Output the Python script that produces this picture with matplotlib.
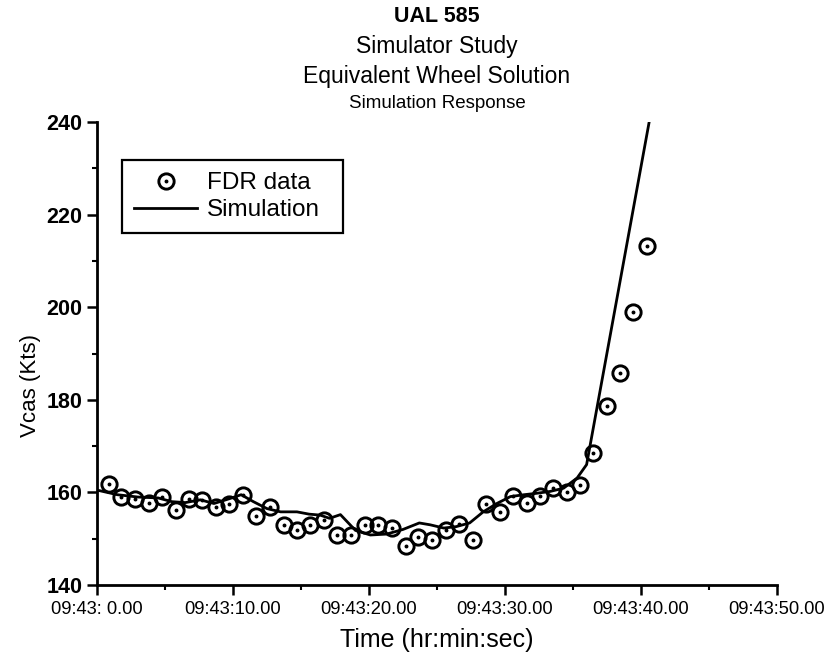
import matplotlib
matplotlib.use("Agg")
import matplotlib.pyplot as plt
from matplotlib.ticker import MultipleLocator, FixedLocator, FixedFormatter
from matplotlib.lines import Line2D
from matplotlib.legend_handler import HandlerTuple

plt.rcParams["font.family"] = ["Liberation Sans", "DejaVu Sans"]

# FDR data (seconds after 09:43:00, Vcas in kts)
fdr_time = [0.88, 1.80, 2.79, 3.82, 4.80, 5.78, 6.76, 7.74, 8.73, 9.71,
            10.74, 11.72, 12.75, 13.73, 14.71, 15.69, 16.72, 17.65, 18.65, 19.70,
            20.68, 21.67, 22.70, 23.63, 24.65, 25.66, 26.64, 27.63, 28.60, 29.63,
            30.61, 31.60, 32.57, 33.55, 34.54, 35.51, 36.49, 37.52, 38.46, 39.43,
            40.42]
fdr_vcas = [161.8, 159.1, 158.5, 157.8, 159.1, 156.3, 158.6, 158.4, 156.9, 157.6,
            159.5, 154.9, 156.9, 152.9, 151.9, 152.9, 154.0, 150.9, 150.9, 152.9,
            152.9, 152.4, 148.4, 150.4, 149.8, 151.9, 153.1, 149.8, 157.5, 155.7,
            159.3, 157.8, 159.2, 160.9, 160.0, 161.5, 168.5, 178.6, 185.8, 199.0,
            213.3]

# Simulation response
sim_time = [0.0, 1.5, 3.0, 4.5, 5.5, 6.5, 7.6, 8.6, 9.8, 10.6,
            11.5, 12.5, 13.5, 14.7, 15.6, 16.4, 17.1, 17.9, 19.0, 20.1,
            21.3, 22.5, 23.7, 24.5, 25.5, 26.4, 27.4, 28.4, 29.4, 30.4,
            31.4, 32.3, 33.3, 34.3, 35.3, 36.0, 40.6]
sim_vcas = [160.5, 159.5, 159.0, 158.8, 158.0, 157.8, 158.4, 157.6, 158.7, 159.5,
            158.0, 156.5, 155.8, 155.8, 155.3, 155.1, 154.4, 155.2, 151.8, 150.8,
            151.0, 152.0, 153.4, 153.0, 152.3, 152.6, 153.4, 155.8, 157.6, 159.1,
            159.5, 159.8, 160.2, 160.9, 163.1, 166.0, 240.0]

x_ticks = [0, 10, 20, 30, 40, 50]
x_labels = ["09:43: 0.00", "09:43:10.00", "09:43:20.00",
            "09:43:30.00", "09:43:40.00", "09:43:50.00"]

fig = plt.figure(figsize=(8.25, 6.64), dpi=100)
ax = fig.add_axes([97 / 825, 1 - 585 / 664, 680 / 825, 463 / 664])

ax.plot(sim_time, sim_vcas, color="black", lw=2.0, zorder=2)
ax.plot(fdr_time, fdr_vcas, ls="none", marker="o", ms=11, mfc="none",
        mec="black", mew=2.1, zorder=3)
ax.plot(fdr_time, fdr_vcas, ls="none", marker="o", ms=1.8, mfc="black",
        mec="black", zorder=3)

ax.set_xlim(0, 50)
ax.set_ylim(140, 240)
ax.xaxis.set_major_locator(FixedLocator(x_ticks))
ax.xaxis.set_major_formatter(FixedFormatter(x_labels))
ax.xaxis.set_minor_locator(MultipleLocator(5))
ax.yaxis.set_major_locator(MultipleLocator(20))
ax.yaxis.set_minor_locator(MultipleLocator(10))

for side in ["top", "right"]:
    ax.spines[side].set_visible(False)
for side in ["left", "bottom"]:
    ax.spines[side].set_linewidth(2.0)
ax.tick_params(which="major", direction="out", length=7.5, width=1.8, pad=4)
ax.tick_params(axis="x", which="major", labelsize=13.2)
ax.tick_params(axis="y", which="major", labelsize=15.5, pad=3)
ax.tick_params(which="minor", direction="out", length=3.8, width=1.5)
for lab in ax.get_yticklabels():
    lab.set_fontweight("bold")

ax.set_xlabel("Time (hr:min:sec)", fontsize=18, labelpad=7)
ax.set_ylabel("Vcas (Kts)", fontsize=16)
ax.yaxis.set_label_coords(-0.083, 0.43)

# legend: circle with centre dot
h_circ = Line2D([], [], ls="none", marker="o", ms=11, mfc="none",
                mec="black", mew=2.1)
h_dot = Line2D([], [], ls="none", marker="o", ms=1.8, mfc="black", mec="black")
h_line = Line2D([], [], color="black", lw=2.0)
leg = ax.legend([(h_circ, h_dot), h_line], ["FDR data", "Simulation"],
                handler_map={tuple: HandlerTuple(ndivide=1, pad=0)},
                loc="upper left", bbox_to_anchor=(0.0368, 0.4, 0.325, 0.518),
                mode="expand", borderaxespad=0, fontsize=17.5, fancybox=False,
                handlelength=2.6, handletextpad=0.4, borderpad=0.5,
                labelspacing=0.2, framealpha=1)
leg.get_frame().set_edgecolor("black")
leg.get_frame().set_linewidth(1.6)

fig.text(437 / 825, 1 - 17 / 664, "UAL 585", ha="center", va="center",
         fontsize=15.5, fontweight="bold")
fig.text(437 / 825, 1 - 46 / 664, "Simulator Study", ha="center",
         va="center", fontsize=16.5)
fig.text(437 / 825, 1 - 76 / 664, "Equivalent Wheel Solution", ha="center",
         va="center", fontsize=16.5)
fig.text(437 / 825, 1 - 103 / 664, "Simulation Response", ha="center",
         va="center", fontsize=13.5)

fig.savefig("out.png", dpi=100)
plt.close(fig)
